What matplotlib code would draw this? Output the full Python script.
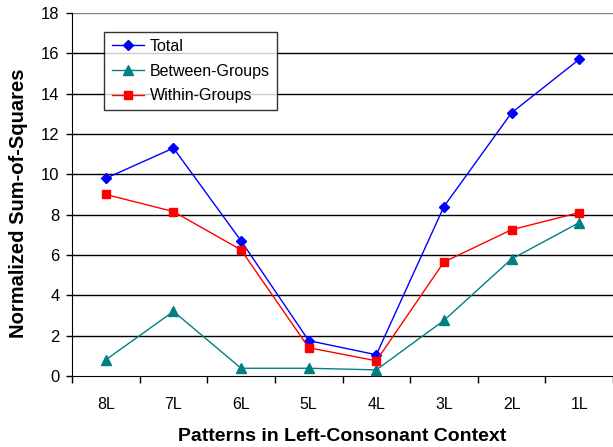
import numpy as np
import matplotlib.pyplot as plt

plt.rcParams['font.family'] = ['Liberation Sans', 'DejaVu Sans']

# Data
categories = ["8L", "7L", "6L", "5L", "4L", "3L", "2L", "1L"]
total = [9.8, 11.3, 6.7, 1.75, 1.05, 8.4, 13.05, 15.7]
between_groups = [0.8, 3.2, 0.38, 0.38, 0.3, 2.75, 5.8, 7.6]
within_groups = [9.0, 8.15, 6.25, 1.4, 0.75, 5.65, 7.25, 8.1]


def main():
    fig = plt.figure(figsize=(6.13, 4.47), dpi=100)
    ax = fig.add_axes([0.1175, 0.159, 0.8825, 0.812])

    x = np.arange(len(categories))

    # gridlines
    for yv in range(2, 17, 2):
        ax.axhline(yv, color='black', lw=1, zorder=1)
    ax.axhline(18, color='#808080', lw=1, zorder=1)

    ax.plot(x, total, color='#0000FF', lw=1, marker='D', markersize=5,
            label='Total', zorder=3)
    ax.plot(x, between_groups, color='#008080', lw=1, marker='^', markersize=7,
            label='Between-Groups', zorder=3)
    ax.plot(x, within_groups, color='#FF0000', lw=1, marker='s', markersize=6,
            label='Within-Groups', zorder=3)

    ax.set_xlim(-0.5, len(categories) - 0.5)
    ax.set_ylim(0, 18)
    ax.set_yticks(range(0, 19, 2))
    ax.set_xticks(x)
    ax.set_xticklabels(categories)
    ax.set_xticks(np.arange(-0.5, len(categories) - 0.4, 1), minor=True)
    ax.tick_params(axis='x', which='major', length=0, pad=15, labelsize=11.5)
    ax.tick_params(axis='x', which='minor', length=5, direction='out', width=1)
    ax.tick_params(axis='y', length=4, direction='out', labelsize=12, width=1,
                   pad=5)

    for s in ['top', 'right']:
        ax.spines[s].set_visible(False)
    ax.spines['left'].set_color('black')
    ax.spines['bottom'].set_color('black')

    ax.set_xlabel('Patterns in Left-Consonant Context', fontsize=14,
                  fontweight='bold', labelpad=12)
    ax.set_ylabel('Normalized Sum-of-Squares', fontsize=14.5,
                  fontweight='bold')
    ax.yaxis.set_label_coords(-0.081, 0.477)

    leg = ax.legend(loc='upper left', bbox_to_anchor=(0.06, 0.948),
                    fontsize=11.5, frameon=True, fancybox=False,
                    edgecolor='black', handlelength=2.0, handletextpad=0.4,
                    borderpad=0.45, labelspacing=0.6, borderaxespad=0)
    leg.get_frame().set_linewidth(1)

    fig.savefig('out.png', dpi=100)


if __name__ == "__main__":
    main()
